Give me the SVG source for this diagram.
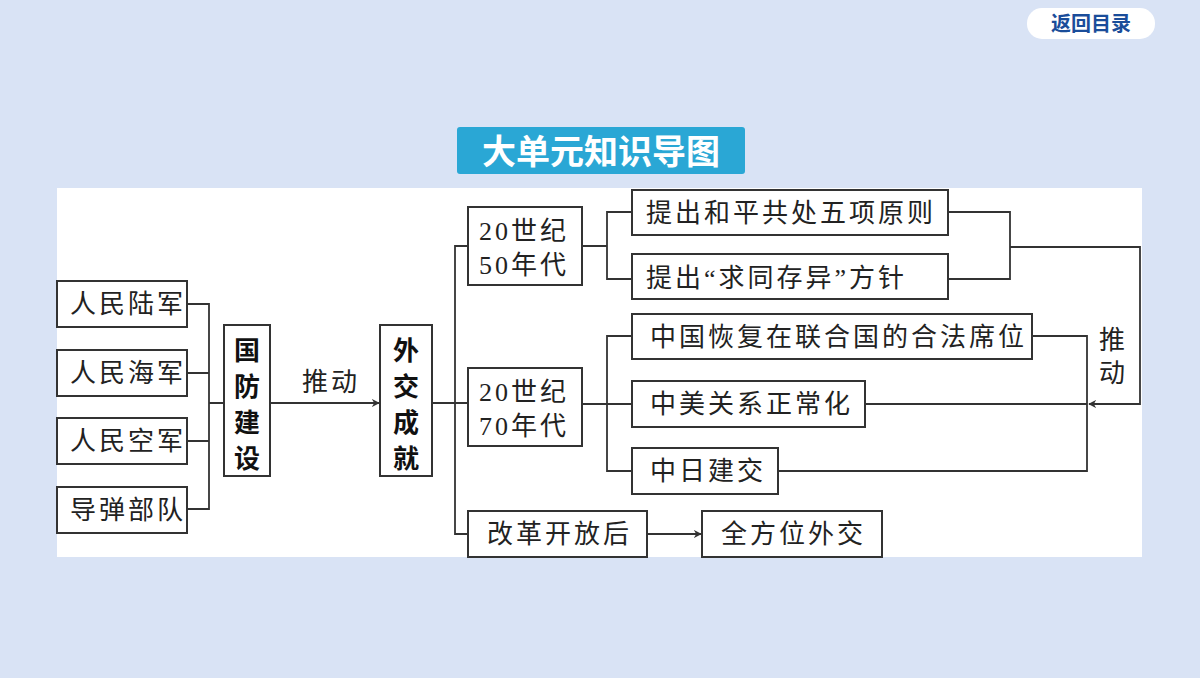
<svg xmlns="http://www.w3.org/2000/svg" width="1200" height="678" viewBox="0 0 1200 678">
<style>
.b{fill:#fff;stroke:#333;stroke-width:2}
.t{font-family:"Liberation Serif","Noto Sans CJK SC",serif;font-size:26px;fill:#222;letter-spacing:3px}
.tb{font-family:"Noto Sans CJK SC",sans-serif;font-size:26px;font-weight:bold;fill:#111}
.l{fill:none;stroke:#333;stroke-width:1.8}
</style>
<defs><marker id="a" viewBox="0 0 10 10" refX="9" refY="5" markerWidth="8" markerHeight="8" orient="auto" markerUnits="userSpaceOnUse"><path d="M0,0L10,5L0,10L3,5z" fill="#333"/></marker></defs>
<rect width="1200" height="678" fill="#d9e3f5"/>
<g id="back"><rect x="1027" y="8" width="128" height="31" rx="15" fill="#fff"/><text x="1091" y="31" text-anchor="middle" font-family="Noto Sans CJK SC,sans-serif" font-weight="bold" font-size="20" fill="#1a4d9a">返回目录</text></g>
<g id="title"><rect x="457" y="127" width="288" height="47" rx="3" fill="#2aa7d5"/><text x="601" y="164" text-anchor="middle" font-family="Noto Sans CJK SC,sans-serif" font-weight="bold" font-size="34" fill="#fff">大单元知识导图</text></g>
<rect x="57" y="188" width="1085" height="369" fill="#fff"/>
<g id="connectors">
<path class="l" d="M187,304H209V509H187M187,373H209M187,441H209M209,403H224"/>
<path class="l" d="M270,403H379" marker-end="url(#a)"/>
<path class="l" d="M432,403H455M468,246H455V534H468M455,403H468"/>
<path class="l" d="M647,534H701" marker-end="url(#a)"/>
<path class="l" d="M582,246H607M632,212H607V279H632"/>
<path class="l" d="M582,404H632M632,336H607V471H632"/>
<path class="l" d="M948,212H1010V279H948M1010,247H1140V404H1089" marker-end="url(#a)"/>
<path class="l" d="M1032,336H1087V471H778M865,404H1087"/>
</g>
<g id="n1"><rect class="b" x="57" y="281" width="130" height="46"/><text class="t" x="70" y="313">人民陆军</text></g>
<g id="n2"><rect class="b" x="57" y="350" width="130" height="46"/><text class="t" x="70" y="382">人民海军</text></g>
<g id="n3"><rect class="b" x="57" y="418" width="130" height="46"/><text class="t" x="70" y="450">人民空军</text></g>
<g id="n4"><rect class="b" x="57" y="487" width="130" height="46"/><text class="t" x="70" y="519">导弹部队</text></g>
<g id="gf"><rect class="b" x="224" y="325" width="46" height="151"/><text class="tb" x="247" y="360" text-anchor="middle">国</text><text class="tb" x="247" y="396" text-anchor="middle">防</text><text class="tb" x="247" y="432" text-anchor="middle">建</text><text class="tb" x="247" y="468" text-anchor="middle">设</text></g>
<text class="t" x="302" y="391">推动</text>
<g id="wj"><rect class="b" x="380" y="325" width="52" height="151"/><text class="tb" x="406" y="360" text-anchor="middle">外</text><text class="tb" x="406" y="396" text-anchor="middle">交</text><text class="tb" x="406" y="432" text-anchor="middle">成</text><text class="tb" x="406" y="468" text-anchor="middle">就</text></g>
<g id="s50"><rect class="b" x="468" y="207" width="114" height="78"/><text class="t" x="479" y="240" letter-spacing="0">20世纪</text><text class="t" x="479" y="274" letter-spacing="0">50年代</text></g>
<g id="s70"><rect class="b" x="468" y="368" width="114" height="78"/><text class="t" x="479" y="401" letter-spacing="0">20世纪</text><text class="t" x="479" y="435" letter-spacing="0">70年代</text></g>
<g id="gg"><rect class="b" x="468" y="511" width="179" height="46"/><text class="t" x="487" y="543">改革开放后</text></g>
<g id="qf"><rect class="b" x="702" y="511" width="180" height="46"/><text class="t" x="721" y="543">全方位外交</text></g>
<g id="p1"><rect class="b" x="632" y="190" width="316" height="45"/><text class="t" x="646" y="222">提出和平共处五项原则</text></g>
<g id="p2"><rect class="b" x="632" y="254" width="316" height="45"/><text class="t" x="646" y="287">提出“求同存异”方针</text></g>
<g id="p3"><rect class="b" x="632" y="314" width="400" height="45"/><text class="t" x="650" y="346">中国恢复在联合国的合法席位</text></g>
<g id="p4"><rect class="b" x="632" y="381" width="233" height="46"/><text class="t" x="650" y="413">中美关系正常化</text></g>
<g id="p5"><rect class="b" x="632" y="448" width="146" height="46"/><text class="t" x="650" y="480">中日建交</text></g>
<text class="t" x="1099" y="349">推</text><text class="t" x="1099" y="382">动</text>
</svg>
